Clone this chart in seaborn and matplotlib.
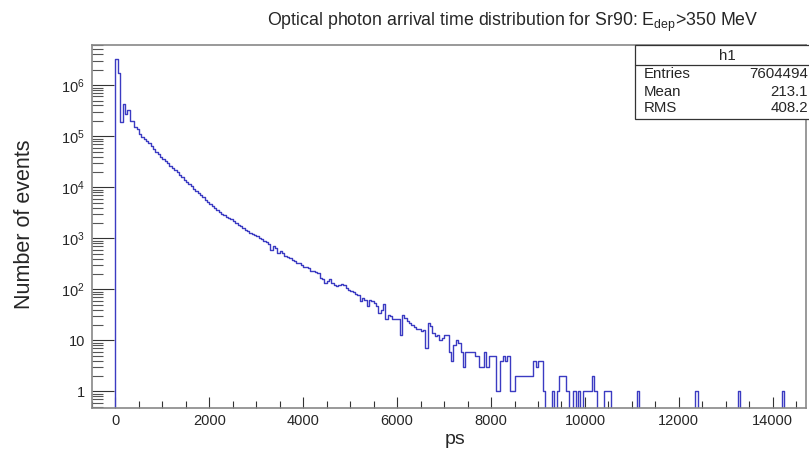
import numpy as np
import pandas as pd
import matplotlib
matplotlib.use("Agg")
import matplotlib.pyplot as plt
import seaborn as sns
from matplotlib.ticker import MultipleLocator, FixedLocator, FuncFormatter, NullFormatter
from matplotlib.patches import Rectangle
from matplotlib.lines import Line2D

# ---------------- data ----------------
bin_start = -500          # ps, left edge of the histogram range
bin_width = 50            # ps
neg_counts = [0] * 10     # bins between -500 and 0 ps (empty)
counts = [
    3240000, 1740000, 190000, 427000, 269000, 324000, 195000, 200000, 155000, 141000,
    110000, 97700, 89100, 79400, 72400, 63100, 56200, 50100, 44700, 39800,
    36300, 32400, 29500, 26300, 24000, 21400, 19500, 17400, 15800, 14100,
    12900, 11700, 10500, 9330, 8510, 7590, 6920, 6310, 5750, 5250,
    4790, 4270, 3890, 3550, 3310, 3020, 2820, 2630, 2510, 2340,
    2190, 2040, 1860, 1740, 1580, 1480, 1380, 1290, 1230, 1170,
    1120, 1020, 955, 891, 832, 759, 603, 708, 646, 525,
    562, 513, 447, 427, 412, 372, 363, 331, 324, 302,
    269, 275, 257, 229, 234, 219, 214, 170, 158, 135,
    148, 158, 132, 123, 115, 120, 126, 123, 107, 98,
    93, 89, 83, 76, 59, 69, 63, 47, 63, 58,
    55, 47, 35, 40, 51, 26, 32, 30, 26, 26,
    26, 13, 32, 28, 24, 22, 20, 18, 17, 17,
    15, 16, 7, 22, 19, 14, 12, 13, 10, 11,
    13, 13, 6, 4, 8, 10, 9, 6, 3, 6,
    6, 6, 6, 5, 5, 3, 3, 6, 3, 5,
    5, 5, 1, 1, 4, 5, 4, 5, 1, 1,
    2, 2, 2, 2, 2, 2, 2, 2, 4, 3,
    4, 4, 1, 0, 0, 0, 1, 0, 1, 2,
    2, 2, 1, 0, 0, 1, 0, 1, 0, 1,
    1, 1, 1, 2, 1, 0, 0, 0, 1, 1,
    1, 0, 0, 0, 0, 0, 0, 0, 0, 0,
    0, 0, 1, 0, 0, 0, 0, 0, 0, 0,
    0, 0, 0, 0, 0, 0, 0, 0, 0, 0,
    0, 0, 0, 0, 0, 0, 0, 1, 0, 0,
    0, 0, 0, 0, 0, 0, 0, 0, 0, 0,
    0, 0, 0, 0, 0, 1, 0, 0, 0, 0,
    0, 0, 0, 0, 0, 0, 0, 0, 0, 0,
    0, 0, 0, 0, 1, 0, 0, 0, 0, 0,
    0, 0, 0, 0,
]
y_decades = [0, 1, 2, 3, 4, 5, 6]
x_major = [0, 2000, 4000, 6000, 8000, 10000, 12000, 14000]
stats_name = "h1"
stats_labels = ["Entries", "Mean", "RMS"]
stats_values = ["7604494", "213.1", "408.2"]
title = r"Optical photon arrival time distribution for Sr90: E$_{\mathrm{dep}}$>350 MeV"
x_title = "ps"
y_title = "Number of events"

# ---------------- style ----------------
sns.set_style("white")
plt.rcParams['font.family'] = ['Liberation Sans', 'DejaVu Sans']
plt.rcParams['mathtext.fontset'] = 'custom'
plt.rcParams['mathtext.rm'] = 'Liberation Sans'
plt.rcParams['mathtext.it'] = 'Liberation Sans:italic'
plt.rcParams['mathtext.bf'] = 'Liberation Sans:bold'

W, H = 809, 453
fig = plt.figure(figsize=(W / 100, H / 100), dpi=100)
fig.patch.set_facecolor('white')

L, R, T, B = 92, 805.6, 45, 408
ax = fig.add_axes([L / W, 1 - B / H, (R - L) / W, (B - T) / H])

all_counts = np.array(neg_counts + counts, dtype=float)
edges = bin_start + bin_width * np.arange(len(all_counts) + 1)
df = pd.DataFrame({"t": edges[:-1] + bin_width / 2, "n": all_counts})

sns.histplot(data=df, x="t", weights="n", bins=[float(e) for e in edges],
             element='step', fill=False, color='#3b3bc2', linewidth=1.0, ax=ax)
ax.set_yscale('log')
ax.set_xlim(-500, 14700)
ax.set_ylim(0.475, 6.12e6)
ax.xaxis.label.set_visible(False)
ax.yaxis.label.set_visible(False)

# ticks
ax.xaxis.set_major_locator(FixedLocator(x_major))
ax.xaxis.set_minor_locator(FixedLocator(np.arange(-500, 14701, 500)))
major_y = [10.0 ** k for k in y_decades]
minor_y = [m * 10.0 ** k for k in range(-1, 7) for m in range(2, 10)
           if 0.475 <= m * 10.0 ** k <= 6.12e6]
ax.yaxis.set_major_locator(FixedLocator(major_y))
ax.yaxis.set_minor_locator(FixedLocator(minor_y))
ax.yaxis.set_minor_formatter(NullFormatter())
ax.xaxis.set_minor_formatter(NullFormatter())

def yfmt(v, _):
    k = int(round(np.log10(v)))
    if k == 0:
        return '1'
    if k == 1:
        return '10'
    return r'$10^{%d}$' % k

ax.yaxis.set_major_formatter(FuncFormatter(yfmt))
ax.tick_params(axis='x', which='major', direction='in', length=8, width=0.8,
               color='#333333', labelsize=10.5, pad=4, top=False, bottom=True)
ax.tick_params(axis='x', which='minor', direction='in', length=5, width=0.8,
               color='#333333', top=False, bottom=True)
ax.tick_params(axis='y', which='major', direction='in', length=16, width=0.8,
               color='#333333', labelsize=10.5, pad=5, left=True, right=False)
ax.tick_params(axis='y', which='minor', direction='in', length=8, width=0.8,
               color='#555555', left=True, right=False)

for s in ax.spines.values():
    s.set_visible(True)
    s.set_color('#888888')
    s.set_linewidth(1.2)

# axis titles and title
fig.text(455 / W, 1 - 440 / H, x_title, ha='center', va='center', fontsize=14)
fig.text(25 / W, 1 - 224 / H, y_title, ha='center', va='center', rotation=90, fontsize=15.5)
fig.text(513 / W, 1 - 26 / H, title, ha='center', va='baseline', fontsize=12.8)

# stats box
bx0, by0, bx1, by1 = 635, 45, 810, 119
fig.patches.append(Rectangle((bx0 / W, 1 - by1 / H), (bx1 - bx0) / W, (by1 - by0) / H,
                             transform=fig.transFigure, facecolor='white',
                             edgecolor='#333333', linewidth=0.9, zorder=5))
fig.lines.append(Line2D([bx0 / W, bx1 / W], [1 - 65 / H, 1 - 65 / H],
                        transform=fig.transFigure, color='#333333', linewidth=0.9, zorder=6))
fig.text(727 / W, 1 - 56 / H, stats_name, ha='center', va='center', fontsize=10.8, zorder=7)
for i, (lab, val) in enumerate(zip(stats_labels, stats_values)):
    yy = 1 - (74.5 + 17 * i) / H
    fig.text(644 / W, yy, lab, ha='left', va='center', fontsize=10.8, zorder=7)
    fig.text(808 / W, yy, val, ha='right', va='center', fontsize=10.8, zorder=7)

fig.savefig('out.png', dpi=100)
